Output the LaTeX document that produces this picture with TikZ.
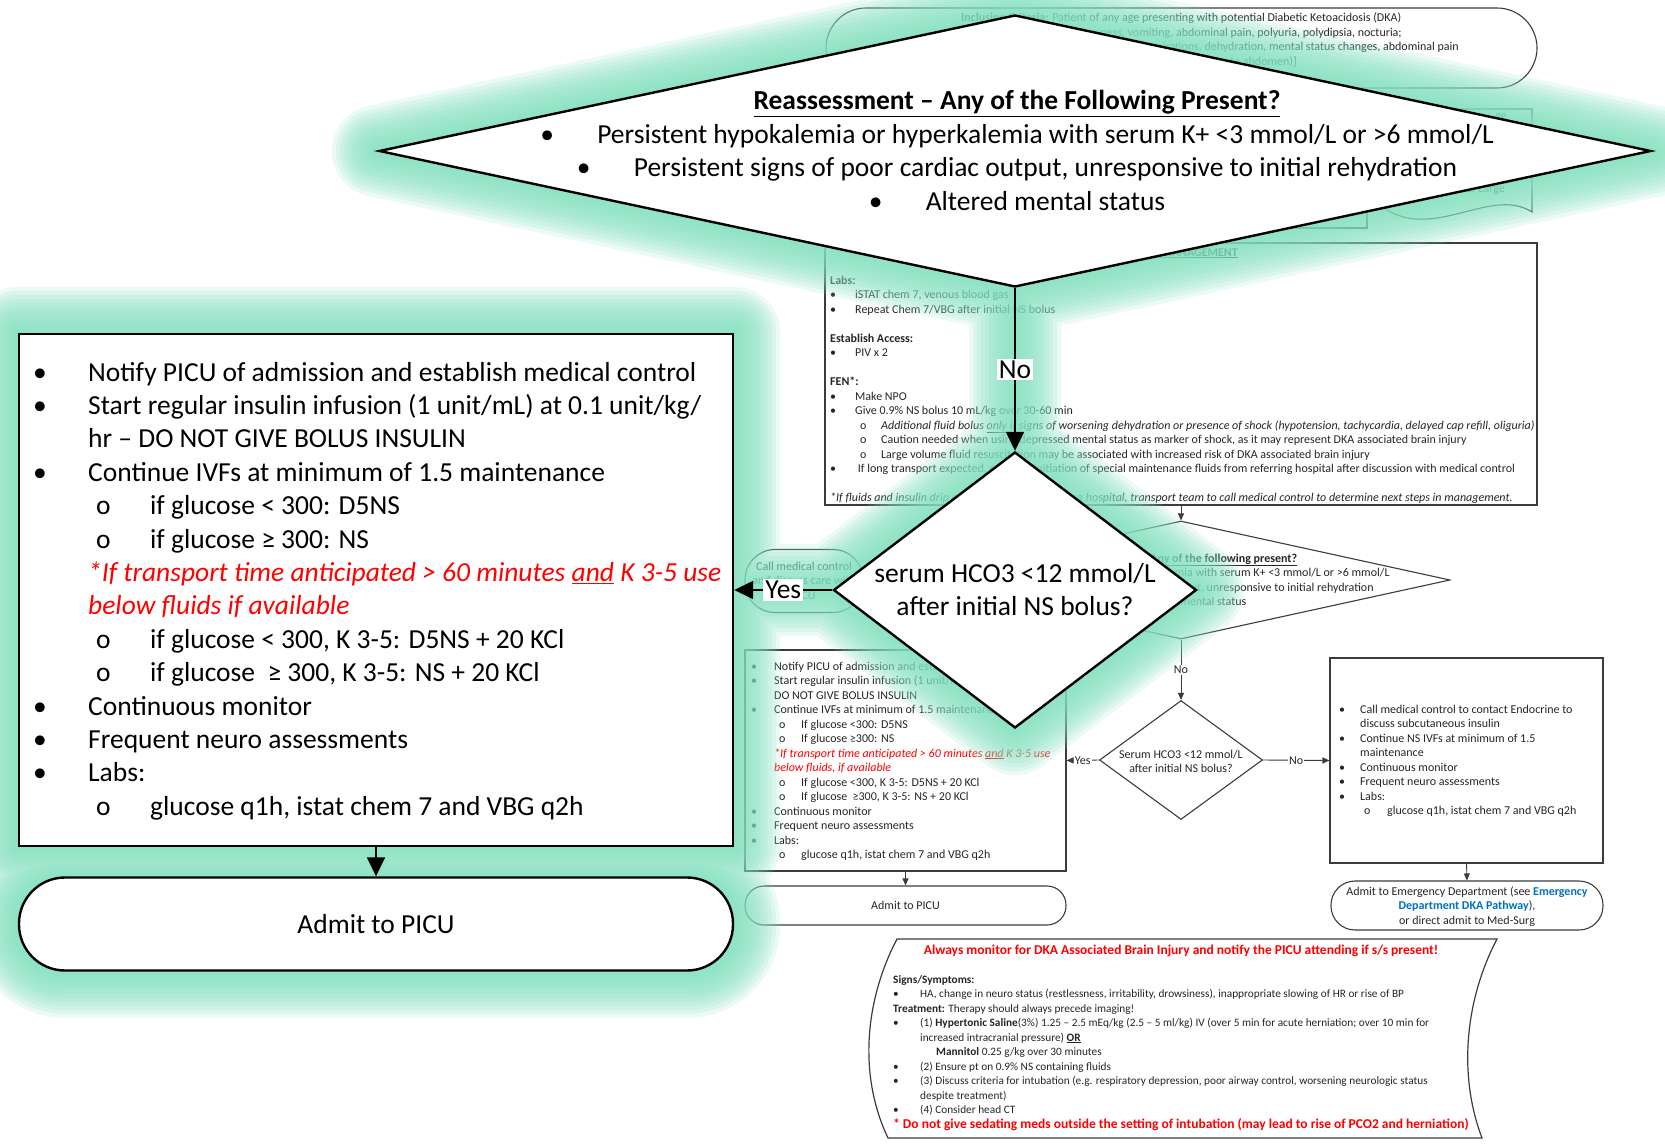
\documentclass[tikz,border=0pt]{standalone}
\usepackage{fontspec}
\setmainfont{Carlito}
\usetikzlibrary{shapes,arrows,arrows.meta}

\definecolor{glowc}{RGB}{131,226,193}
\definecolor{linkblue}{RGB}{0,112,192}
\definecolor{wordred}{RGB}{255,0,0}
\definecolor{thinline}{RGB}{60,60,60}

\pgfdeclarelayer{chart}
\pgfdeclarelayer{glowlayer}
\pgfsetlayers{chart,glowlayer,main}

\newlength{\bulw}
\newlength{\subind}
\newlength{\subw}
\newcommand{\bitem}[1]{\hbox{\makebox[\bulw][l]{•}#1}}
\newcommand{\sitem}[1]{\hbox{\hspace*{\subind}\makebox[\subw][l]{o}#1}}
\newcommand{\titem}[1]{\hbox{\hspace*{\bulw}#1}}
\newcommand{\pitem}[1]{\hbox{#1}}
\newcommand{\cstack}[1]{\vtop{\halign{\hfil##\hfil\cr#1\crcr}}}

\begin{document}
\begin{tikzpicture}[x=1pt, y=-1pt]
        % Define block styles
        \tikzstyle{bigshape} = [draw, line width=2.4pt, fill=white, inner sep=0pt]
        \tikzstyle{smallshape} = [draw=thinline, line width=1.1pt, fill=white, inner sep=0pt]
        \tikzstyle{bigtxt} = [font=\fontsize{27.5}{33.4}\selectfont, inner sep=0pt]
        \tikzstyle{smalltxt} = [font=\fontsize{12}{14.5}\selectfont, inner sep=0pt, text=black!85]
        \tikzstyle{redtxt} = [font=\fontsize{13.5}{14.5}\selectfont\bfseries, inner sep=0pt, text=wordred]
        \tikzstyle{biglabel} = [bigtxt, fill=white, inner sep=2pt]
        \tikzstyle{smalllabel} = [smalltxt, fill=white, inner sep=1pt]
        \tikzstyle{line} = [draw, line width=1.6pt, -{Triangle[length=19pt,width=18pt]}]
        \tikzstyle{smallline} = [draw=thinline, line width=0.9pt, -{Triangle[length=7pt,width=6pt]}]

        \useasboundingbox (0,0) rectangle (1665,1145);

        % Background chart
        \begin{pgfonlayer}{chart}
        \fill[white] (0,0) rectangle (1665,1145);
        \node [smallshape, rounded corners=40pt, minimum width=711pt, minimum height=80pt] (incl) at (1181.5,48) {};
        \node [smalltxt, anchor=base west] (incl1) at (961,22) {\textbf{Inclusion Criteria:} Patient of any age presenting with potential Diabetic Ketoacidosis (DKA)};
        \node [smalltxt, anchor=base east] (incl2) at (1402,37) {[Symptoms: listlessness, vomiting, abdominal pain, polyuria, polydipsia, nocturia;};
        \node [smalltxt, anchor=base east] (incl3) at (1459,51) {Signs: Kussmaul respirations, dehydration, mental status changes, abdominal pain};
        \node [smalltxt, anchor=base east] (incl4) at (1297,66) {tenderness (may mimic acute abdomen)]};

        \node [smallshape, minimum width=267pt, minimum height=119pt] (critbox) at (1233.5,168.5) {};
        \draw [thinline, line width=1.1pt, fill=white] (1380,109) -- (1532,109) -- (1532,212)
            .. controls (1490,185) and (1430,245) .. (1380,205) -- cycle;
        \node [smalltxt, anchor=base east] (crit1) at (1507,120) {ge};
        \node [smalltxt, anchor=base east] (crit2) at (1505,193) {i.e. Large};

        \node [smallshape, minimum width=712pt, minimum height=262pt] (mgmt) at (1181,374) {};
        \node [smalltxt, anchor=base east] (mgmttitle) at (1238,256) {\textbf{\underline{INITIAL MANAGEMENT}}};
        \node [smalltxt, anchor=base west] (mgmttxt) at (830,284) {\setlength{\bulw}{25pt}\setlength{\subind}{30pt}\setlength{\subw}{21pt}\vtop{
            \pitem{\textbf{Labs:}}
            \bitem{iSTAT chem 7, venous blood gas}
            \bitem{Repeat Chem 7/VBG after initial NS bolus}
            \pitem{}
            \pitem{\textbf{Establish Access:}}
            \bitem{PIV x 2}
            \pitem{}
            \pitem{\textbf{FEN*:}}
            \bitem{Make NPO}
            \bitem{Give 0.9\% NS bolus 10 mL/kg over 30-60 min}
            \sitem{\itshape Additional fluid bolus \underline{only} if signs of worsening dehydration or presence of shock (hypotension, tachycardia, delayed cap refill, oliguria)}
            \sitem{Caution needed when using depressed mental status as marker of shock, as it may represent DKA associated brain injury}
            \sitem{Large volume fluid resuscitation may be associated with increased risk of DKA associated brain injury}
            \bitem{\ If long transport expected, consider initiation of special maintenance fluids from referring hospital after discussion with medical control}
            \pitem{}
            \pitem{\itshape *If fluids and insulin drip already started at referring hospital, transport team to call medical control to determine next steps in management.}}};

        \node [smallshape, diamond, minimum width=538pt, minimum height=118pt] (sdia1) at (1181,580) {};
        \node [smalltxt, anchor=base] (sdia1txt) at (1183,562) {\cstack{\textbf{\underline{Reassessment – Any of the following present?}}\cr
            \makebox[22pt][l]{•}Persistent hypokalemia or hyperkalemia with serum K+ <3 mmol/L or >6 mmol/L\cr
            \makebox[22pt][l]{•}Persistent signs of poor cardiac output, unresponsive to initial rehydration\cr
            \makebox[22pt][l]{•}Altered mental status}};

        \node [smallshape, rounded corners=30pt, minimum width=118pt, minimum height=63pt] (callmc) at (804,581) {};
        \node [smalltxt, anchor=base] (callmctxt) at (804,570) {\cstack{Call medical control\cr and discuss care with\cr PICU}};

        \node [smallshape, diamond, minimum width=163pt, minimum height=119pt] (sdia2) at (1181,760) {};
        \node [smalltxt, anchor=base] (sdia2txt) at (1181,758) {\cstack{Serum HCO3 <12 mmol/L\cr after initial NS bolus?}};

        \node [smallshape, minimum width=321pt, minimum height=221pt] (sbox) at (905.5,760.5) {};
        \node [smalltxt, anchor=base west] (sboxtxt) at (751,670) {\setlength{\bulw}{23pt}\setlength{\subind}{28pt}\setlength{\subw}{22pt}\vtop{
            \bitem{Notify PICU of admission and establish medical control}
            \bitem{Start regular insulin infusion (1 unit/mL) at 0.1 unit/kg/hr –}
            \titem{DO NOT GIVE BOLUS INSULIN}
            \bitem{Continue IVFs at minimum of 1.5 maintenance}
            \sitem{If glucose <300: D5NS}
            \sitem{If glucose ≥300: NS}
            \titem{\color{wordred}\itshape *If transport time anticipated > 60 minutes \underline{and} K 3-5 use}
            \titem{\color{wordred}\itshape below fluids, if available}
            \sitem{If glucose <300, K 3-5: D5NS + 20 KCl}
            \sitem{If glucose \ ≥300, K 3-5: NS + 20 KCl}
            \bitem{Continuous monitor}
            \bitem{Frequent neuro assessments}
            \bitem{Labs:}
            \sitem{glucose q1h, istat chem 7 and VBG q2h}}};

        \node [smallshape, smalltxt, rounded corners=19pt, minimum width=321pt, minimum height=39pt] (sadmit) at (905.5,905.5) {Admit to PICU};

        \node [smallshape, minimum width=273pt, minimum height=205pt] (rbox) at (1466.5,760.5) {};
        \node [smalltxt, anchor=base west] (rboxtxt) at (1339,713) {\setlength{\bulw}{21pt}\setlength{\subind}{25pt}\setlength{\subw}{23pt}\vtop{
            \bitem{Call medical control to contact Endocrine to}
            \titem{discuss subcutaneous insulin}
            \bitem{Continue NS IVFs at minimum of 1.5}
            \titem{maintenance}
            \bitem{Continuous monitor}
            \bitem{Frequent neuro assessments}
            \bitem{Labs:}
            \sitem{glucose q1h, istat chem 7 and VBG q2h}}};

        \node [smallshape, rounded corners=24pt, minimum width=272pt, minimum height=49pt] (edadmit) at (1467,905.5) {};
        \node [smalltxt, anchor=base] (edadmittxt) at (1467,895) {\cstack{Admit to Emergency Department (see \textcolor{linkblue}{\textbf{Emergency}}\cr
            \textcolor{linkblue}{\textbf{Department DKA Pathway}}),\cr or direct admit to Med-Surg}};

        \draw [thinline, line width=1.2pt, fill=white] (897,939) -- (1497,939)
            .. controls (1465,1000) and (1458,1075) .. (1482,1138) -- (888,1138)
            .. controls (858,1075) and (865,1000) .. (897,939) -- cycle;
        \node [redtxt] (braintitle) at (1181,951) {Always monitor for DKA Associated Brain Injury and notify the PICU attending if s/s present!};
        \node [smalltxt, font=\fontsize{11.3}{14.5}\selectfont, anchor=base west] (braintxt) at (893,983) {\setlength{\bulw}{27pt}\vtop{
            \pitem{\textbf{Signs/Symptoms:}}
            \bitem{HA, change in neuro status (restlessness, irritability, drowsiness), inappropriate slowing of HR or rise of BP}
            \pitem{\textbf{Treatment:} Therapy should always precede imaging!}
            \bitem{(1) \textbf{Hypertonic Saline}(3\%) 1.25 – 2.5 mEq/kg (2.5 – 5 ml/kg) IV (over 5 min for acute herniation; over 10 min for}
            \titem{increased intracranial pressure) \textbf{\underline{OR}}}
            \titem{\hspace*{16pt}\textbf{Mannitol} 0.25 g/kg over 30 minutes}
            \bitem{(2) Ensure pt on 0.9\% NS containing fluids}
            \bitem{(3) Discuss criteria for intubation (e.g. respiratory depression, poor airway control, worsening neurologic status}
            \titem{despite treatment)}
            \bitem{(4) Consider head CT}
            \pitem{\fontsize{13.5}{14.5}\selectfont\color{wordred}\bfseries * Do not give sedating meds outside the setting of intubation (may lead to rise of PCO2 and herniation)}}};

        \path [smallline] (mgmt.south) -- (sdia1.north);
        \path [smallline] (sdia1.south) -- node[smalllabel] (sno1) {No} (sdia2.north);
        \path [smallline] (sdia2.west) -- node[smalllabel] (syes) {Yes} (sbox.east);
        \path [smallline] (sdia2.east) -- node[smalllabel] (sno2) {No} (rbox.west);
        \path [smallline] (sbox.south) -- (sadmit.north);
        \path [smallline] (rbox.south) -- (edadmit.north);
        \end{pgfonlayer}

        % Nodes
        \node [bigshape, diamond, minimum width=1272pt, minimum height=272pt] (reassess) at (1015,151) {};
        \node [bigshape, diamond, minimum width=363pt, minimum height=276pt] (hco) at (1015,590) {};
        \node [bigshape, minimum width=714pt, minimum height=512pt] (picubox) at (376,590) {};
        \node [bigshape, bigtxt, rounded corners=46pt, minimum width=714pt, minimum height=93pt] (admit) at (376,924) {Admit to PICU};

        \node [bigtxt, anchor=base] (reasstxt) at (1017,110) {\cstack{\textbf{\underline{Reassessment – Any of the Following Present?}}\cr
            \makebox[57pt][l]{•}Persistent hypokalemia or hyperkalemia with serum K+ <3 mmol/L or >6 mmol/L\cr
            \makebox[57pt][l]{•}Persistent signs of poor cardiac output, unresponsive to initial rehydration\cr
            \makebox[57pt][l]{•}Altered mental status}};
        \node [bigtxt, anchor=base] (hcotxt) at (1015,582) {\cstack{serum HCO3 <12 mmol/L\cr after initial NS bolus?}};
        \node [bigtxt, anchor=base west] (picutxt) at (33,381) {\setlength{\bulw}{55pt}\setlength{\subind}{63pt}\setlength{\subw}{54pt}\vtop{
            \bitem{Notify PICU of admission and establish medical control}
            \bitem{Start regular insulin infusion (1 unit/mL) at 0.1 unit/kg/}
            \titem{hr – DO NOT GIVE BOLUS INSULIN}
            \bitem{Continue IVFs at minimum of 1.5 maintenance}
            \sitem{if glucose < 300: D5NS}
            \sitem{if glucose ≥ 300: NS}
            \titem{\color{wordred}\itshape *If transport time anticipated > 60 minutes \underline{and} K 3-5 use}
            \titem{\color{wordred}\itshape below fluids if available}
            \sitem{if glucose < 300, K 3-5: D5NS + 20 KCl}
            \sitem{if glucose \ ≥ 300, K 3-5: NS + 20 KCl}
            \bitem{Continuous monitor}
            \bitem{Frequent neuro assessments}
            \bitem{Labs:}
            \sitem{glucose q1h, istat chem 7 and VBG q2h}}};

        % Glow
        \begin{pgfonlayer}{glowlayer}
        \foreach \w in {92,84,...,4} {
            \draw [glowc, opacity=0.16, line width=\w pt, line join=round, line cap=round]
                (reassess.north) -- (reassess.east) -- (reassess.south) -- (reassess.west) -- cycle
                (hco.north) -- (hco.east) -- (hco.south) -- (hco.west) -- cycle
                (picubox.north west) rectangle (picubox.south east)
                (reassess.south) -- (hco.north)
                (hco.west) -- (picubox.east)
                (picubox.south) -- (admit.north)
                {[rounded corners=46pt] (admit.north west) rectangle (admit.south east)};
        }
        \end{pgfonlayer}

        % Arrows
        \path [line] (reassess.south) -- node[biglabel] (nolab) {No} (hco.north);
        \path [line] (hco.west) -- node[biglabel] (yeslab) {Yes} (picubox.east);
        \path [line] (picubox.south) -- (admit.north);
\end{tikzpicture}
\end{document}
